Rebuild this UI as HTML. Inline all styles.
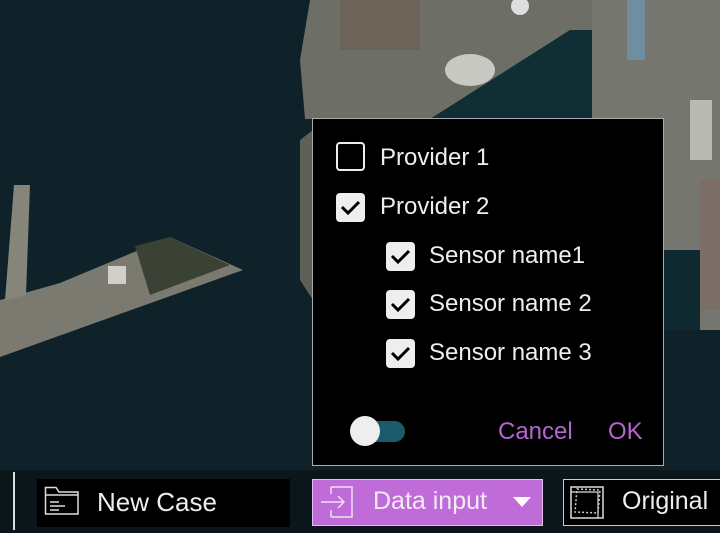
<!DOCTYPE html>
<html><head><meta charset="utf-8"><style>
html,body{margin:0;padding:0;background:#fff;}
#wrap{position:relative;width:720px;height:552px;overflow:hidden;font-family:"Liberation Sans","Noto Sans CJK JP",sans-serif;}
.t{position:absolute;color:#eee;white-space:nowrap;line-height:1;}
.cb{position:absolute;width:29px;height:29px;box-sizing:border-box;border-radius:4px;}
.on{background:#eeeeee;}
.off{border:2.5px solid #eee;}
</style></head><body><div id="wrap">
<svg width="720" height="552" style="position:absolute;left:0;top:0">
<rect width="720" height="533" fill="#0f2129"/>
<polygon points="310,0 720,0 720,330 663,330 663,119 305,119 300,60" fill="#6d6e66"/>
<polygon points="300,140 313,130 313,300 300,280" fill="#5d6058"/>
<polygon points="430,119 570,30 592,30 592,119" fill="#0f2f34"/>
<rect x="592" y="0" width="128" height="330" fill="#74766f"/>
<rect x="627" y="0" width="18" height="60" fill="#6f8fa0"/>
<rect x="690" y="100" width="22" height="60" fill="#b8bab4"/>
<rect x="663" y="250" width="37" height="80" fill="#0f2a30"/>
<rect x="700" y="180" width="20" height="130" fill="#7a6e66"/>
<ellipse cx="470" cy="70" rx="25" ry="16" fill="#c9c9c4"/>
<circle cx="520" cy="6" r="9" fill="#ddd"/>
<rect x="340" y="0" width="80" height="50" fill="#705c50" opacity=".6"/>
<polygon points="0,300 60,283 170,237 243,270 0,357" fill="#7b7a70"/>
<polygon points="135,246 170,237 230,265 150,295" fill="#3c4136"/>
<rect x="108" y="266" width="18" height="18" fill="#d0d0c8"/>
<polygon points="14,185 30,185 26,295 5,300" fill="#85857a"/>
</svg>
<div style="position:absolute;left:312px;top:118px;width:350px;height:346px;background:#000;border:1px solid #aaa;"></div>
<div class="cb off" style="left:336px;top:142px"></div>
<div class="t" style="left:380px;top:146px;font-size:24px">Provider 1</div>
<div class="cb on" style="left:336px;top:193px"><svg width="29" height="29"><path d="M6 14 L12 20 L23 9" stroke="#000" stroke-width="3" fill="none"/></svg></div>
<div class="t" style="left:380px;top:195px;font-size:24px">Provider 2</div>
<div class="cb on" style="left:386px;top:242px"><svg width="29" height="29"><path d="M6 14 L12 20 L23 9" stroke="#000" stroke-width="3" fill="none"/></svg></div>
<div class="t" style="left:429px;top:244px;font-size:24px">Sensor name1</div>
<div class="cb on" style="left:386px;top:290px"><svg width="29" height="29"><path d="M6 14 L12 20 L23 9" stroke="#000" stroke-width="3" fill="none"/></svg></div>
<div class="t" style="left:429px;top:292px;font-size:24px">Sensor name 2</div>
<div class="cb on" style="left:386px;top:339px"><svg width="29" height="29"><path d="M6 14 L12 20 L23 9" stroke="#000" stroke-width="3" fill="none"/></svg></div>
<div class="t" style="left:429px;top:341px;font-size:24px">Sensor name 3</div>
<div style="position:absolute;left:352px;top:421px;width:53px;height:21px;border-radius:11px;background:#1a5a6a"></div>
<div style="position:absolute;left:350px;top:416px;width:30px;height:30px;border-radius:50%;background:#eee"></div>
<div class="t" style="left:498px;top:420px;font-size:24px;color:#b565d0">Cancel</div>
<div class="t" style="left:608px;top:420px;font-size:24px;color:#b565d0">OK</div>
<div style="position:absolute;left:0;top:470px;width:720px;height:63px;background:#0b161b"></div>
<div style="position:absolute;left:13px;top:472px;width:2px;height:58px;background:#ddd"></div>
<div style="position:absolute;left:37px;top:479px;width:253px;height:48px;background:#000"></div>
<svg style="position:absolute;left:44px;top:486px" width="36" height="30"><path d="M1.5 1.5 H12 L15 6 H34 V28 H1.5 Z M1.5 9 H34" stroke="#ddd" stroke-width="1.5" fill="none"/><path d="M6 16 H15 M6 20 H21 M6 24 H15" stroke="#ddd" stroke-width="1.5"/></svg>
<div class="t" style="left:97px;top:489px;font-size:26px">New Case</div>
<div style="position:absolute;left:312px;top:479px;width:231px;height:47px;box-sizing:border-box;background:#bf6bd8;border:1px solid #e0c0ea"></div>
<svg style="position:absolute;left:320px;top:485px" width="36" height="34"><path d="M11 2 H32 V32 H11 M11 2 V9 M11 32 V25" stroke="#f0e0f4" stroke-width="1.5" fill="none"/><path d="M1 17 H24 M18 11 L24 17 L18 23" stroke="#f0e0f4" stroke-width="1.5" fill="none"/></svg>
<div class="t" style="left:373px;top:489px;font-size:25px;color:#f6eaf8">Data input</div>
<svg style="position:absolute;left:512px;top:496px" width="20" height="12"><polygon points="1,1 19,1 10,11" fill="#fff"/></svg>
<div style="position:absolute;left:563px;top:479px;width:170px;height:47px;box-sizing:border-box;background:#000;border:1px solid #ccc"></div>
<svg style="position:absolute;left:570px;top:486px" width="34" height="34"><rect x="1" y="1" width="32" height="31" stroke="#ddd" stroke-width="1.5" fill="none"/><path d="M1 6 H28 V32" stroke="#ddd" stroke-width="1.2" fill="none"/><path d="M7 3 L30 4 L28 27 L5 26 Z" stroke="#ccc" stroke-width="1.5" stroke-dasharray="2 2" fill="none"/></svg>
<div class="t" style="left:622px;top:489px;font-size:25px">Original</div>
</div></body></html>
